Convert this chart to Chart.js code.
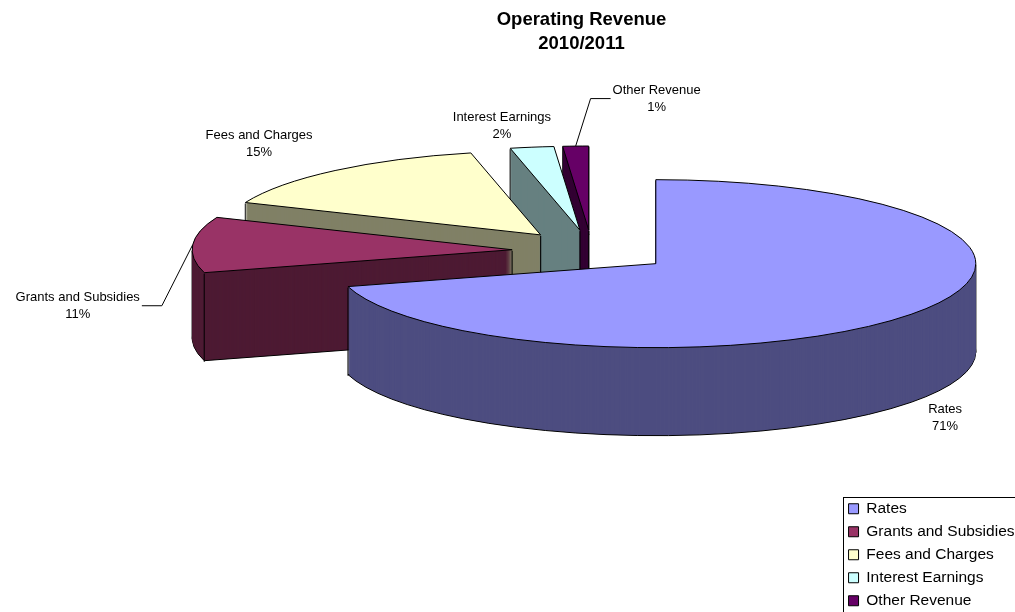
<!DOCTYPE html>
<html>
<head>
<meta charset="utf-8">
<title>Operating Revenue 2010/2011</title>
<script src="https://cdn.jsdelivr.net/npm/chart.js@4.4.1/dist/chart.umd.min.js"></script>
<style>
  html, body { margin: 0; padding: 0; background: #fff; }
  canvas { display: block; }
</style>
</head>
<body>
<canvas id="chart" width="1015" height="612"></canvas>
<script>
'use strict';

const categories = ['Rates', 'Grants and Subsidies', 'Fees and Charges', 'Interest Earnings', 'Other Revenue'];
const revenueShare = [70.6, 10.7, 15.2, 2.2, 1.3];
const titleLines = ['Operating Revenue', '2010/2011'];

const faceColors = ['#9999FF', '#993366', '#FFFFCC', '#CCFFFF', '#660066'];
const sideColors = ['#4D4D80', '#4D1A33', '#808066', '#668080', '#330033'];

// where each data label sits relative to the middle of its slice's rim,
// and which labels were dragged away and got a leader line
const labelOffsets = [[34, 104], [-115, 61], [-76, -26.5], [-30, -21], [81, -47.5]];
const leaderLines = [false, true, false, false, true];

/* the tilted, exploded pie: centre on screen, ellipse radii, side height, explode share */
const VIEW = { cx: 592, cy: 251, rx: 320, ry: 84, depth: 88, explode: 0.25 };

Chart.defaults.font.family = '"Liberation Sans", Arial, sans-serif';
Chart.defaults.color = '#000';

/* Screen point of the top face at canvas angle a and radius fraction f */
function project(arc, a, f) {
  const mid = (arc.startAngle + arc.endAngle) / 2;
  return {
    x: VIEW.cx + Math.cos(mid) * VIEW.explode * VIEW.rx + Math.cos(a) * f * VIEW.rx,
    y: VIEW.cy + Math.sin(mid) * VIEW.explode * VIEW.ry + Math.sin(a) * f * VIEW.ry
  };
}

/* Corners of a slice that become vertical edges on the side */
function cornerPoints(arc) {
  const pts = [project(arc, 0, 0), project(arc, arc.startAngle, 1), project(arc, arc.endAngle, 1)];
  [0, Math.PI].forEach(function(a) {
    if (a > arc.startAngle && a < arc.endAngle) pts.push(project(arc, a, 1));
  });
  return pts;
}

const pie3d = {
  id: 'pie3d',

  beforeDatasetsDraw(chart) {
    const ctx = chart.ctx;
    const arcs = chart.getDatasetMeta(0).data;
    const r = arcs[0].outerRadius;
    const sx = VIEW.rx / r, sy = VIEW.ry / r;
    const dpr = chart.currentDevicePixelRatio;
    const baseStroke = CanvasRenderingContext2D.prototype.stroke;

    // keep outlines 1px thick whatever the squash of the ellipse
    ctx.stroke = function() {
      this.save();
      this.setTransform(dpr, 0, 0, dpr, 0, 0);
      this.lineWidth = 1;
      baseStroke.call(this);
      this.restore();
    };

    const drawArc = function(arc, dz, opts) {
      const mid = (arc.startAngle + arc.endAngle) / 2;
      const saved = arc.options;
      ctx.save();
      ctx.translate(VIEW.cx + Math.cos(mid) * VIEW.explode * VIEW.rx,
                    VIEW.cy + Math.sin(mid) * VIEW.explode * VIEW.ry + dz);
      ctx.scale(sx, sy);
      ctx.translate(-arc.x, -arc.y);
      arc.options = Object.assign({}, saved, opts);
      arc.draw(ctx);
      arc.options = saved;
      ctx.restore();
    };

    // sides: stack layers from the bottom up, then the top faces
    for(let dz = VIEW.depth; dz > 0; dz--) {
      arcs.forEach(function(arc, i) {
        drawArc(arc, dz, {
          backgroundColor: sideColors[i],
          borderWidth: dz === VIEW.depth ? 1 : 0
        });
      });
      ctx.fillStyle = '#000';
      arcs.forEach(function(arc) {
        cornerPoints(arc).forEach(function(p) {
          ctx.fillRect(p.x - 0.6, p.y + dz, 1.2, 1);
        });
      });
    }
    arcs.forEach(function(arc) { drawArc(arc, 0, {}); });

    delete ctx.stroke;
    return false;
  },

  afterDraw(chart) {
    const ctx = chart.ctx;
    const arcs = chart.getDatasetMeta(0).data;
    const total = revenueShare.reduce(function(a, b) { return a + b; }, 0);

    ctx.save();
    ctx.font = '13px "Liberation Sans", Arial, sans-serif';
    ctx.fillStyle = '#000';
    ctx.strokeStyle = '#000';
    ctx.lineWidth = 1;
    ctx.textAlign = 'center';
    ctx.textBaseline = 'middle';

    arcs.forEach(function(arc, i) {
      const mid = (arc.startAngle + arc.endAngle) / 2;
      const anchor = project(arc, mid, 1);
      const lx = anchor.x + labelOffsets[i][0];
      const ly = anchor.y + labelOffsets[i][1];
      const pct = Math.round(revenueShare[i] / total * 100) + '%';

      ctx.fillText(categories[i], lx, ly - 8.5);
      ctx.fillText(pct, lx, ly + 8.5);

      if(leaderLines[i]) {
        const half = ctx.measureText(categories[i]).width / 2 + 2;
        const dir = lx < anchor.x ? 1 : -1;
        const x0 = lx + dir * half;
        ctx.beginPath();
        ctx.moveTo(x0, ly);
        ctx.lineTo(x0 + dir * 20, ly);
        ctx.lineTo(anchor.x, anchor.y);
        ctx.stroke();
      }
    });

    // legend frame, running off the canvas like the original
    const hb = chart.legend.legendHitBoxes[0];
    ctx.strokeRect(Math.round(hb.left - 6) + 0.5, Math.round(hb.top - 4) + 0.5, 400, 400);
    ctx.restore();
  }
};

new Chart(document.getElementById('chart'), {
  type: 'pie',
  data: {
    labels: categories,
    datasets: [{
      data: revenueShare,
      backgroundColor: faceColors,
      borderColor: '#000',
      borderWidth: 1,
      radius: 160
    }]
  },
  options: {
    responsive: false,
    animation: false,
    layout: { padding: { left: 138.5, right: -9.5, top: 0, bottom: -4 } },
    plugins: {
      title: {
        display: true,
        text: titleLines,
        color: '#000',
        font: { size: 18.5, weight: 'bold', lineHeight: 1.3 },
        padding: { top: 8, bottom: 10 }
      },
      legend: {
        position: 'right',
        align: 'end',
        labels: {
          color: '#000',
          font: { size: 15.5 },
          boxWidth: 10,
          boxHeight: 10,
          padding: 7.5
        }
      },
      tooltip: { enabled: false }
    }
  },
  plugins: [pie3d]
});
</script>
</body>
</html>
